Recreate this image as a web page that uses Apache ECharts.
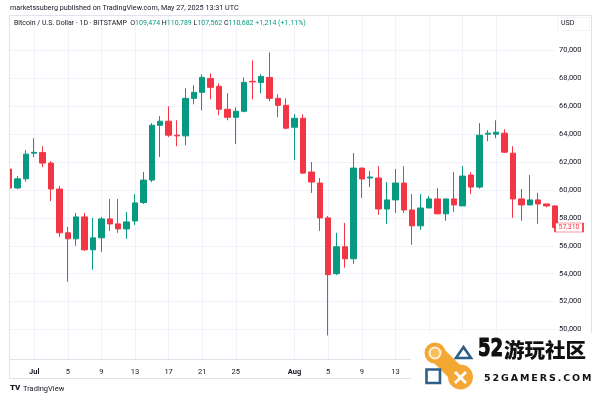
<!DOCTYPE html>
<html>
<head>
<meta charset="utf-8">
<title>Bitcoin / U.S. Dollar 1D</title>
<script src="https://cdn.jsdelivr.net/npm/echarts@6/dist/echarts.min.js"></script>
<style>html,body{margin:0;padding:0;background:#fff;}</style>
</head>
<body>
<div id="chart-container" style="width:600px;height:397px;"></div>
<script>
// daily candles, Jun 28 -> Sep 1
var dates = ['06-28','06-29','06-30',
    '07-01','07-02','07-03','07-04','07-05','07-06','07-07','07-08','07-09','07-10',
    '07-11','07-12','07-13','07-14','07-15','07-16','07-17','07-18','07-19','07-20',
    '07-21','07-22','07-23','07-24','07-25','07-26','07-27','07-28','07-29','07-30','07-31',
    '08-01','08-02','08-03','08-04','08-05','08-06','08-07','08-08','08-09','08-10',
    '08-11','08-12','08-13','08-14','08-15','08-16','08-17','08-18','08-19','08-20',
    '08-21','08-22','08-23','08-24','08-25','08-26','08-27','08-28','08-29','08-30','08-31',
    '09-01'];
var openData = [61500, 60150, 60800,
    62640, 62680, 61930, 60070, 56930, 56500, 58070, 55710, 56570, 57930,
    57570, 57210, 57780, 59100, 60710, 64640, 64930, 63930, 63880, 66570,
    67000, 68000, 67430, 65790, 65210, 65640, 67790, 67710, 68070, 66570, 66070,
    64500, 65140, 61290, 60500, 58000, 54000, 55930, 55070, 61570, 60860,
    60860, 58640, 59290, 60500, 58570, 57430, 58710, 59360, 58290, 59360,
    58860, 61070, 60210, 64000, 64000, 64070, 62640, 59360, 58930, 59290, 59000,
    58860];
var closeData = [60140, 60800, 62570,
    62700, 61930, 60070, 56930, 56500, 58070, 55710, 56570, 57930, 57570,
    57210, 57710, 59070, 60710, 64640, 64930, 63930, 63880, 66570, 67000,
    68070, 67360, 65790, 65210, 65640, 67710, 67750, 68140, 66570, 66070, 64430,
    65140, 61210, 60570, 58000, 53930, 55930, 55070, 61570, 60790, 60930,
    58640, 59290, 60500, 58570, 57430, 58710, 59360, 58290, 59360, 58930,
    61000, 60210, 63930, 64070, 64140, 62710, 59360, 58930, 59290, 59000, 58860,
    57310];
var lowData = [60000, 60050, 60600,
    62360, 61640, 59210, 56640, 53430, 56000, 55640, 54290, 55570, 57070,
    56930, 56500, 57500, 59000, 60570, 62360, 63790, 63140, 63210, 66140,
    65710, 66500, 65360, 65000, 63290, 65570, 66500, 66930, 66360, 65210, 64360,
    62140, 61140, 59790, 57070, 49570, 53900, 54430, 54710, 59430, 60210,
    58210, 57570, 58360, 58360, 56070, 57140, 58710, 58290, 57790, 58430,
    58860, 59710, 60100, 63500, 63710, 62650, 58000, 57790, 58930, 57570, 58760,
    57200];
var highData = [61700, 61000, 62860,
    63700, 63140, 62070, 60290, 57360, 58360, 58360, 58000, 58070, 59360,
    59360, 58430, 59710, 61290, 64790, 65290, 66000, 65000, 67290, 67500,
    68290, 68360, 67640, 66930, 65930, 68070, 69290, 68290, 69860, 66860, 66570,
    65430, 65430, 62000, 60860, 58140, 56930, 57640, 62640, 61600, 61360,
    61710, 60570, 61500, 61710, 59710, 59710, 59570, 60140, 59360, 61290,
    61710, 61290, 64790, 64290, 65000, 64360, 63140, 60070, 61070, 59790, 59000,
    58900];

// x = days since Jul 1
var firstDay = -3;
var xTickDays = [0, 4, 8, 12, 16, 20, 24, 31, 35, 39, 43, 47, 51, 55];
var xTickLabels = ['Jul', '5', '9', '13', '17', '21', '25', 'Aug', '5', '9', '13', '17', '21', '25'];
var yTicks = [50000, 52000, 54000, 56000, 58000, 60000, 62000, 64000, 66000, 68000, 70000];
var lastPrice = 57310;

var upColor = '#089981';
var downColor = '#f23645';
var textColor = '#131722';
var gridColor = '#f0f3fa';
var frameColor = '#e0e3eb';
var font = 'Roboto, "Noto Sans", sans-serif';
var orange = '#f5a733';
var blue = '#2e5f8a';

var candles = [];
for (var i = 0; i < dates.length; i++) {
    candles.push([firstDay + i, openData[i], closeData[i], lowData[i], highData[i]]);
}

var option = {
    animation: false,
    backgroundColor: '#ffffff',
    textStyle: { fontFamily: font },
    grid: { left: 9, right: 45, top: 15, bottom: 38, outerBoundsMode: 'none' },
    xAxis: {
        type: 'value',
        min: firstDay,
        max: firstDay + dates.length - 1,
        axisLine: { show: true, lineStyle: { color: frameColor, width: 1 } },
        axisTick: { show: false, customValues: xTickDays },
        splitLine: { show: true, lineStyle: { color: gridColor, width: 1 } },
        axisLabel: {
            customValues: xTickDays,
            margin: 9,
            fontSize: 7.5,
            color: textColor,
            formatter: function (v) {
                var t = xTickLabels[xTickDays.indexOf(v)];
                return isNaN(+t) ? '{m|' + t + '}' : t;
            },
            rich: { m: { fontSize: 7.5, fontWeight: 'bold', color: textColor } }
        }
    },
    yAxis: {
        type: 'value',
        position: 'right',
        min: 47885,
        max: 72545,
        scale: true,
        axisLine: { show: false },
        axisTick: { show: false, customValues: yTicks },
        splitLine: { show: true, lineStyle: { color: gridColor, width: 1 } },
        axisLabel: {
            customValues: yTicks,
            margin: 4,
            fontSize: 7.5,
            color: textColor,
            formatter: function (v) { return v.toLocaleString('en-US'); }
        }
    },
    series: [{
        type: 'candlestick',
        data: candles,
        encode: { x: 0, y: [1, 2, 3, 4] },
        barWidth: 6,
        clip: true,
        itemStyle: {
            color: upColor,
            color0: downColor,
            borderColor: upColor,
            borderColor0: downColor,
            borderColorDoji: downColor,
            borderWidth: 1
        },
        markPoint: {
            silent: true,
            symbol: 'rect',
            symbolSize: [28, 9],
            symbolOffset: [14, 0],
            itemStyle: { color: '#ffffff', borderColor: downColor, borderWidth: 1 },
            label: {
                show: true,
                position: 'inside',
                color: downColor,
                fontSize: 7,
                formatter: function () { return lastPrice.toLocaleString('en-US'); }
            },
            data: [{ coord: [firstDay + dates.length - 1, lastPrice] }]
        }
    }],
    graphic: [
        // hide the part of the first candle left of the plot
        { type: 'rect', silent: true, z: 5, shape: { x: 0, y: 15, width: 9, height: 345 },
          style: { fill: '#ffffff' } },
        // outer frame
        { type: 'rect', silent: true, z: 6, shape: { x: 9.5, y: 15.5, width: 582, height: 363 },
          style: { fill: null, stroke: frameColor, lineWidth: 1 } },
        // header
        { type: 'text', left: 10, top: 5, z: 10,
          style: { text: 'marketssuberg published on TradingView.com, May 27, 2025 13:31 UTC',
                   fontSize: 7.2, fontFamily: font, fill: textColor } },
        { type: 'text', left: 14, top: 20, z: 10,
          style: {
              text: 'Bitcoin / U.S. Dollar · 1D · BITSTAMP  O{g|109,474} H{g|110,789} L{g|107,562} C{g|110,682} {g|+1,214 (+1.11%)}',
              fontSize: 7, fontFamily: font, fill: textColor,
              rich: { g: { fontSize: 7, fontFamily: font, fill: upColor } }
          } },
        // currency box
        { type: 'rect', z: 10, shape: { x: 557.5, y: 17.5, width: 32, height: 13 },
          style: { fill: '#ffffff', stroke: '#f0f3fa', lineWidth: 1 } },
        { type: 'text', left: 561, top: 20, z: 11,
          style: { text: 'USD', fontSize: 7, fontFamily: font, fill: textColor } },
        // footer logo
        { type: 'text', left: 10, top: 384, z: 10,
          style: { text: 'TV', fontSize: 8, fontWeight: 900, fontFamily: font, fill: textColor } },
        { type: 'text', left: 23, top: 385, z: 10,
          style: { text: 'TradingView', fontSize: 7.5, fontFamily: font, fill: textColor } },
        // watermark
        { type: 'rect', z: 20, silent: true, shape: { x: 411, y: 333, width: 189, height: 64 }, style: { fill: '#ffffff' } },
        { type: 'line', z: 21, shape: { x1: 436, y1: 353, x2: 460, y2: 377 },
          style: { stroke: orange, lineWidth: 17, lineCap: 'round' } },
        { type: 'circle', z: 21, shape: { cx: 435, cy: 353, r: 10.5 }, style: { fill: orange } },
        { type: 'circle', z: 22, shape: { cx: 435, cy: 353, r: 5.5 }, style: { fill: '#f8bf5c', stroke: '#fff1d6', lineWidth: 2 } },
        { type: 'circle', z: 21, shape: { cx: 460.5, cy: 377, r: 12.5 }, style: { fill: orange } },
        { type: 'line', z: 22, shape: { x1: 455, y1: 372, x2: 466, y2: 383 }, style: { stroke: '#ffffff', lineWidth: 2.8 } },
        { type: 'line', z: 22, shape: { x1: 466, y1: 372, x2: 455, y2: 383 }, style: { stroke: '#ffffff', lineWidth: 2.8 } },
        { type: 'polygon', z: 22, shape: { points: [[456, 358], [471, 358], [463.5, 347]] },
          style: { fill: null, stroke: blue, lineWidth: 2.6, lineJoin: 'miter' } },
        { type: 'rect', z: 22, shape: { x: 426.5, y: 369.5, width: 13.5, height: 13.5 },
          style: { fill: null, stroke: blue, lineWidth: 2.6 } },
        { type: 'text', z: 22, x: 478, y: 337, scaleX: 0.72,
          style: { text: '52', fontSize: 25, fontWeight: 'bold',
                   fontFamily: '"DejaVu Sans", sans-serif', fill: '#111111',
                   stroke: '#111111', lineWidth: 1.2 } },
        { type: 'text', z: 22, left: 504, top: 340,
          style: { text: '游玩社区', fontSize: 20.5, fontWeight: 900,
                   fontFamily: '"Noto Sans CJK SC", sans-serif', fill: '#111111' } },
        { type: 'text', z: 22, left: 484, top: 374,
          style: { text: '5\u20092\u2009G\u2009A\u2009M\u2009E\u2009R\u2009S\u2009.\u2009C\u2009O\u2009M',
                   fontSize: 9.5, fontWeight: 'bold', fontFamily: '"DejaVu Sans", sans-serif', fill: '#111111' } }
    ]
};

var chart = echarts.init(document.getElementById('chart-container'));
chart.setOption(option);
</script>
</body>
</html>
